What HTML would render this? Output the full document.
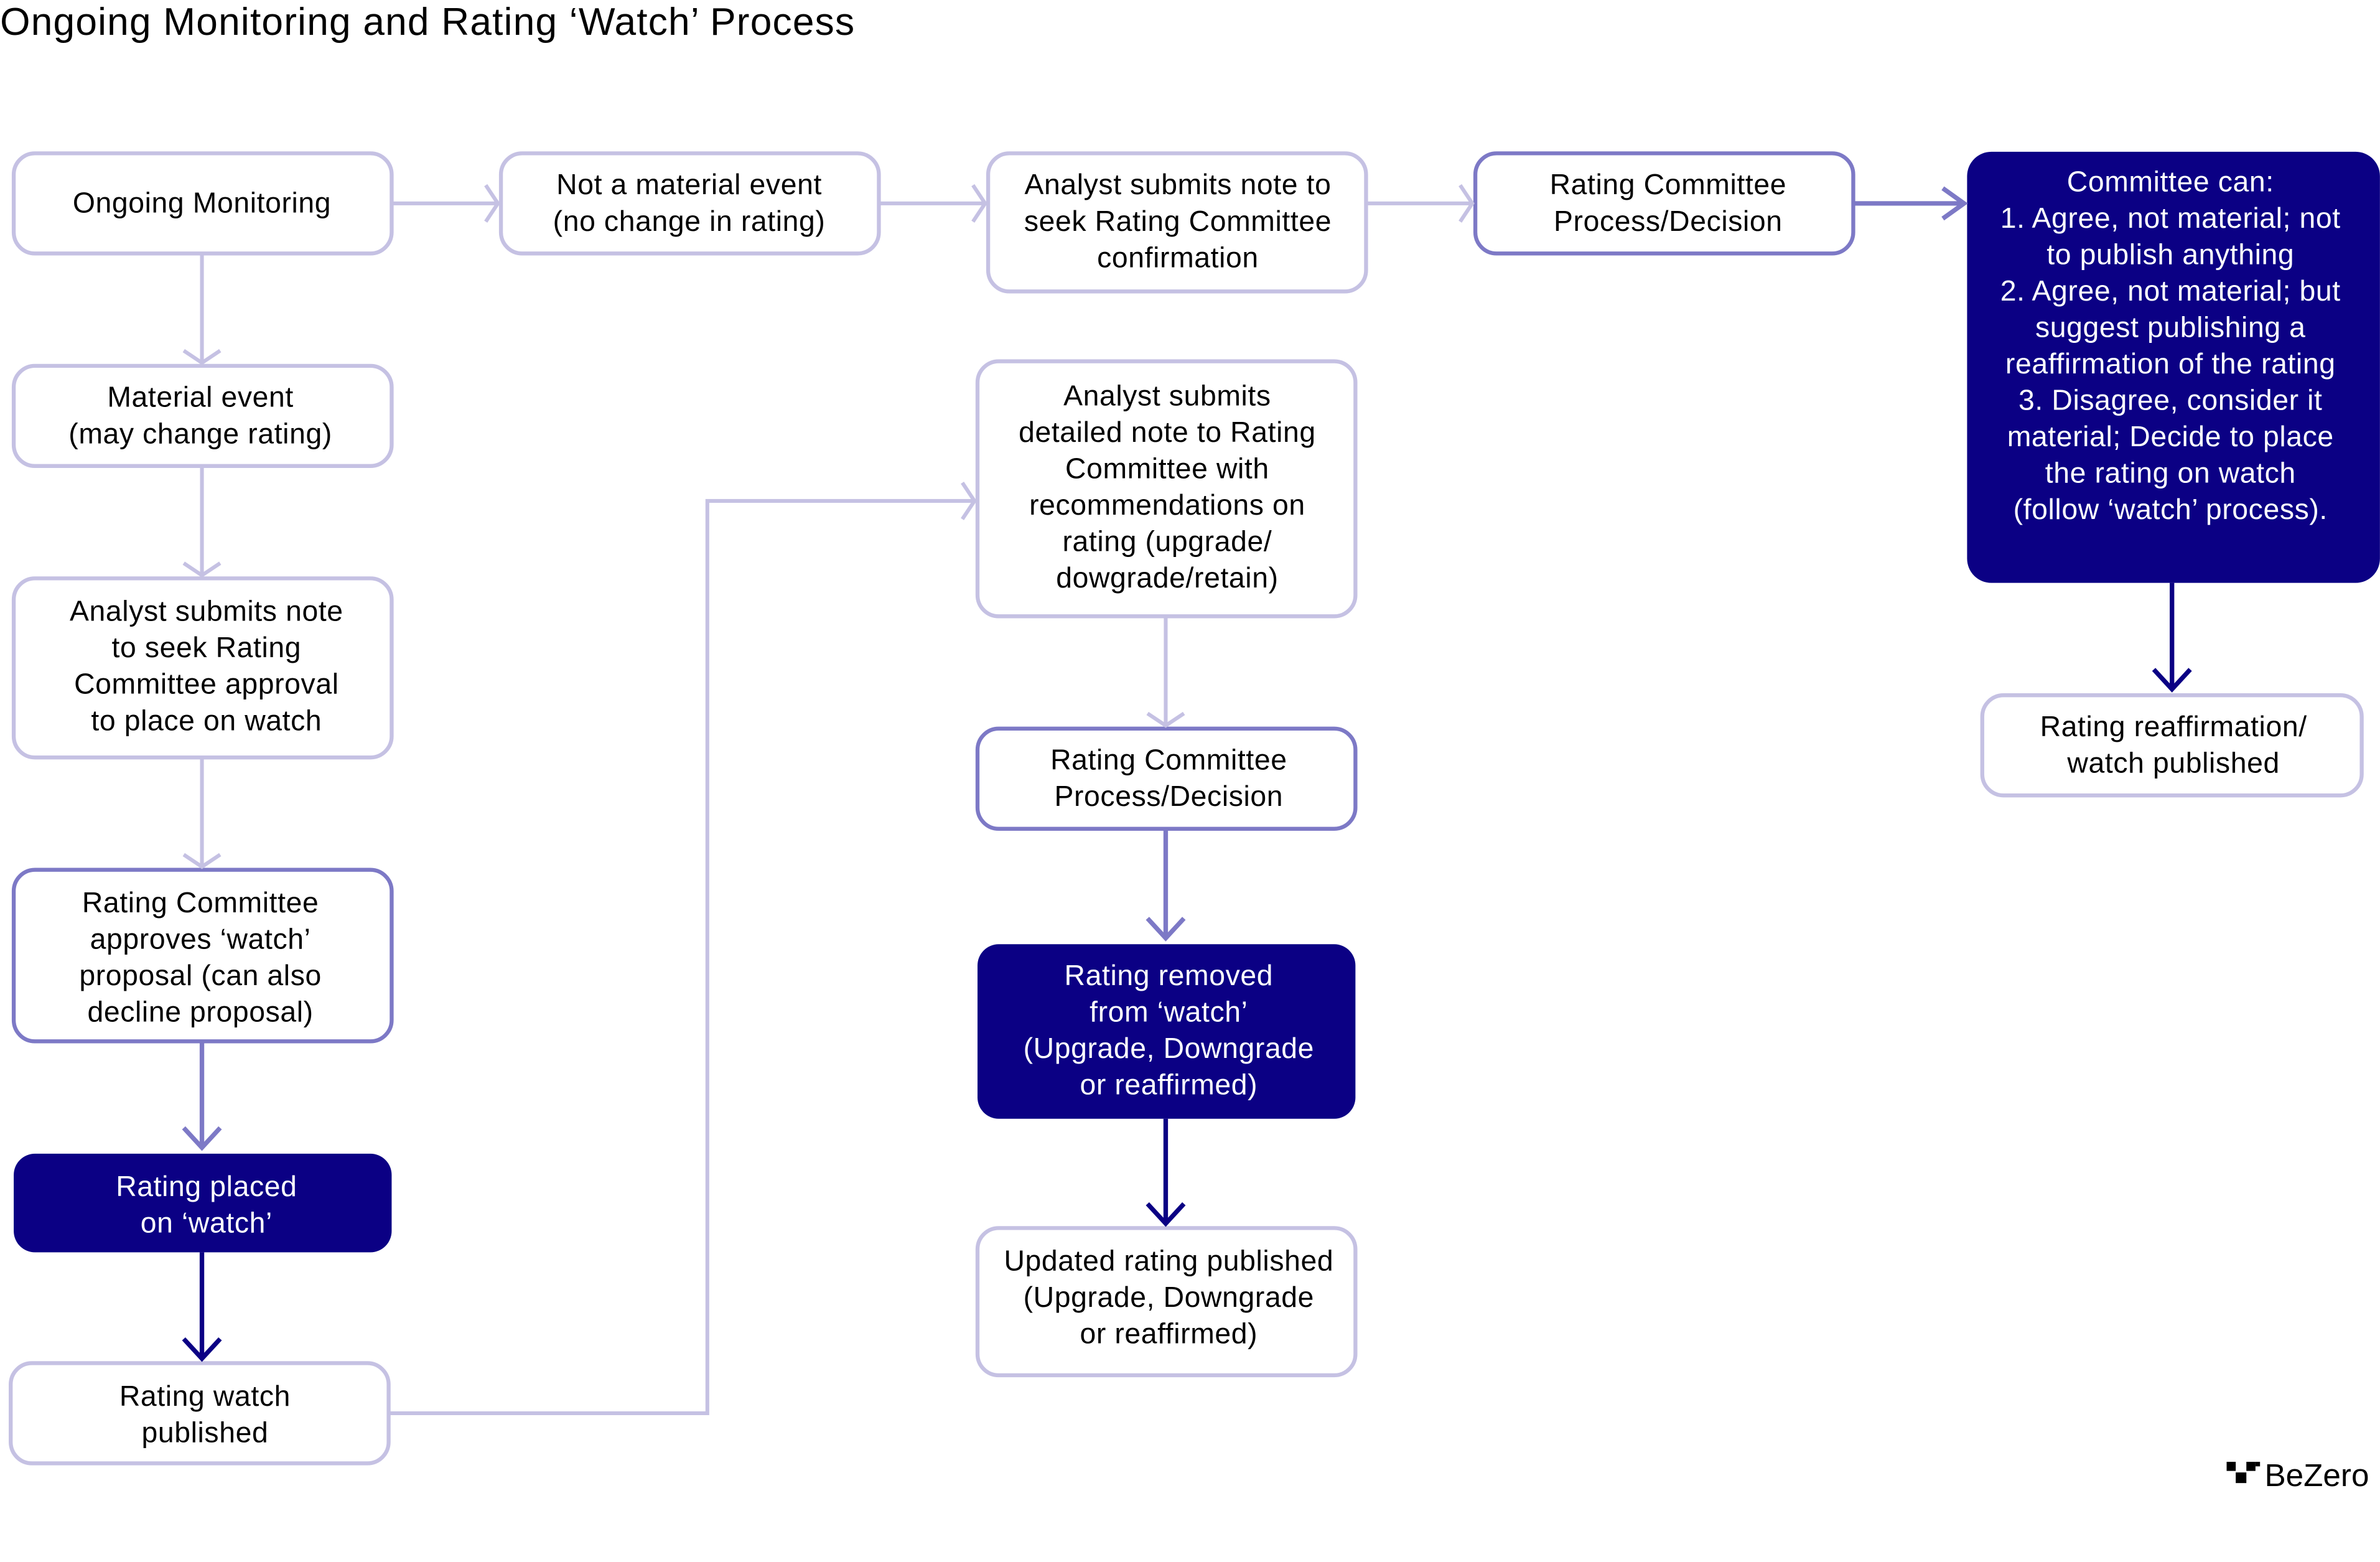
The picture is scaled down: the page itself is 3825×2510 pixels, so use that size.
<!DOCTYPE html>
<html><head><meta charset="utf-8"><style>
html,body{margin:0;padding:0;background:#fff;}
svg{display:block;}
text{font-family:"Liberation Sans",sans-serif;font-size:19px;letter-spacing:0.25px;fill:#000;text-anchor:middle;}
.w{fill:#fff;}
</style></head><body>
<svg width="3825" height="2510" viewBox="0 0 1568 1029" xmlns="http://www.w3.org/2000/svg">
<rect width="1568" height="1029" fill="#fff"/>
<text x="0" y="23" style="text-anchor:start;font-size:25.5px;letter-spacing:0.5px">Ongoing Monitoring and Rating ‘Watch’ Process</text>

<g fill="#fff" stroke="#c5c1e3" stroke-width="2.6">
<rect x="9" y="101" width="249" height="66" rx="14"/>
<rect x="330" y="101" width="249" height="66" rx="14"/>
<rect x="651" y="101" width="249" height="91" rx="14"/>
<rect x="1306" y="458" width="250" height="66" rx="14"/>
<rect x="9" y="241" width="249" height="66" rx="14"/>
<rect x="9" y="381" width="249" height="118" rx="14"/>
<rect x="7" y="898" width="249" height="66" rx="14"/>
<rect x="644" y="238" width="249" height="168" rx="14"/>
<rect x="644" y="809" width="249" height="97" rx="14"/>
</g>
<g fill="#fff" stroke="#7d79c6" stroke-width="2.6">
<rect x="972" y="101" width="249" height="66" rx="14"/>
<rect x="9" y="573" width="249" height="113" rx="14"/>
<rect x="644" y="480" width="249" height="66" rx="14"/>
</g>
<g fill="#0b0084">
<rect x="1296" y="100" width="272" height="284" rx="16"/>
<rect x="9" y="760" width="249" height="65" rx="14"/>
<rect x="644" y="622" width="249" height="115" rx="14"/>
</g>

<g fill="none" stroke="#c5c1e3" stroke-width="2.5">
<path d="M258 134H328M320 122L328 134L320 146"/>
<path d="M579 134H649M641 122L649 134L641 146"/>
<path d="M900 134H970M962 122L970 134L962 146"/>
<path d="M133 167V239M121 231L133 239L145 231"/>
<path d="M133 307V379M121 371L133 379L145 371"/>
<path d="M133 499V571M121 563L133 571L145 563"/>
<path d="M768 406V478M756 470L768 478L780 470"/>
<path d="M256 931H466V330H642M634 318L642 330L634 342"/>
</g>
<g fill="none" stroke="#7d79c6" stroke-width="3">
<path d="M1221 134H1294M1280 124L1294 134L1280 144"/>
<path d="M133 686V756M121 743L133 756L145 743"/>
<path d="M768 546V618M756 605L768 618L780 605"/>
</g>
<g fill="none" stroke="#0b0084" stroke-width="3">
<path d="M133 825V895M121 882L133 895L145 882"/>
<path d="M768 737V806M756 793L768 806L780 793"/>
<path d="M1431 384V454M1419 441L1431 454L1443 441"/>
</g>

<text x="133" y="140">Ongoing Monitoring</text>
<text x="454" y="128">Not a material event</text><text x="454" y="152">(no change in rating)</text>
<text x="776" y="128">Analyst submits note to</text><text x="776" y="152">seek Rating Committee</text><text x="776" y="176">confirmation</text>
<text x="1099" y="128">Rating Committee</text><text x="1099" y="152">Process/Decision</text>
<text class="w" x="1430" y="126">Committee can:</text>
<text class="w" x="1430" y="150">1. Agree, not material; not</text>
<text class="w" x="1430" y="174">to publish anything</text>
<text class="w" x="1430" y="198">2. Agree, not material; but</text>
<text class="w" x="1430" y="222">suggest publishing a</text>
<text class="w" x="1430" y="246">reaffirmation of the rating</text>
<text class="w" x="1430" y="270">3. Disagree, consider it</text>
<text class="w" x="1430" y="294">material; Decide to place</text>
<text class="w" x="1430" y="318">the rating on watch</text>
<text class="w" x="1430" y="342">(follow ‘watch’ process).</text>
<text x="1432" y="485">Rating reaffirmation/</text><text x="1432" y="509">watch published</text>
<text x="132" y="268">Material event</text><text x="132" y="292">(may change rating)</text>
<text x="136" y="409">Analyst submits note</text><text x="136" y="433">to seek Rating</text><text x="136" y="457">Committee approval</text><text x="136" y="481">to place on watch</text>
<text x="132" y="601">Rating Committee</text><text x="132" y="625">approves ‘watch’</text><text x="132" y="649">proposal (can also</text><text x="132" y="673">decline proposal)</text>
<text class="w" x="136" y="788">Rating placed</text><text class="w" x="136" y="812">on ‘watch’</text>
<text x="135" y="926">Rating watch</text><text x="135" y="950">published</text>
<text x="769" y="267">Analyst submits</text><text x="769" y="291">detailed note to Rating</text><text x="769" y="315">Committee with</text><text x="769" y="339">recommendations on</text><text x="769" y="363">rating (upgrade/</text><text x="769" y="387">dowgrade/retain)</text>
<text x="770" y="507">Rating Committee</text><text x="770" y="531">Process/Decision</text>
<text class="w" x="770" y="649">Rating removed</text><text class="w" x="770" y="673">from ‘watch’</text><text class="w" x="770" y="697">(Upgrade, Downgrade</text><text class="w" x="770" y="721">or reaffirmed)</text>
<text x="770" y="837">Updated rating published</text><text x="770" y="861">(Upgrade, Downgrade</text><text x="770" y="885">or reaffirmed)</text>

<g fill="#000">
<rect x="1467" y="963" width="6" height="6"/><rect x="1480" y="963" width="6" height="6"/>
<rect x="1473" y="970" width="7" height="7"/><rect x="1486" y="963" width="3" height="3"/>
</g>
<text x="1492" y="979" style="text-anchor:start;font-size:21px;letter-spacing:0">BeZero</text>
</svg>
</body></html>
